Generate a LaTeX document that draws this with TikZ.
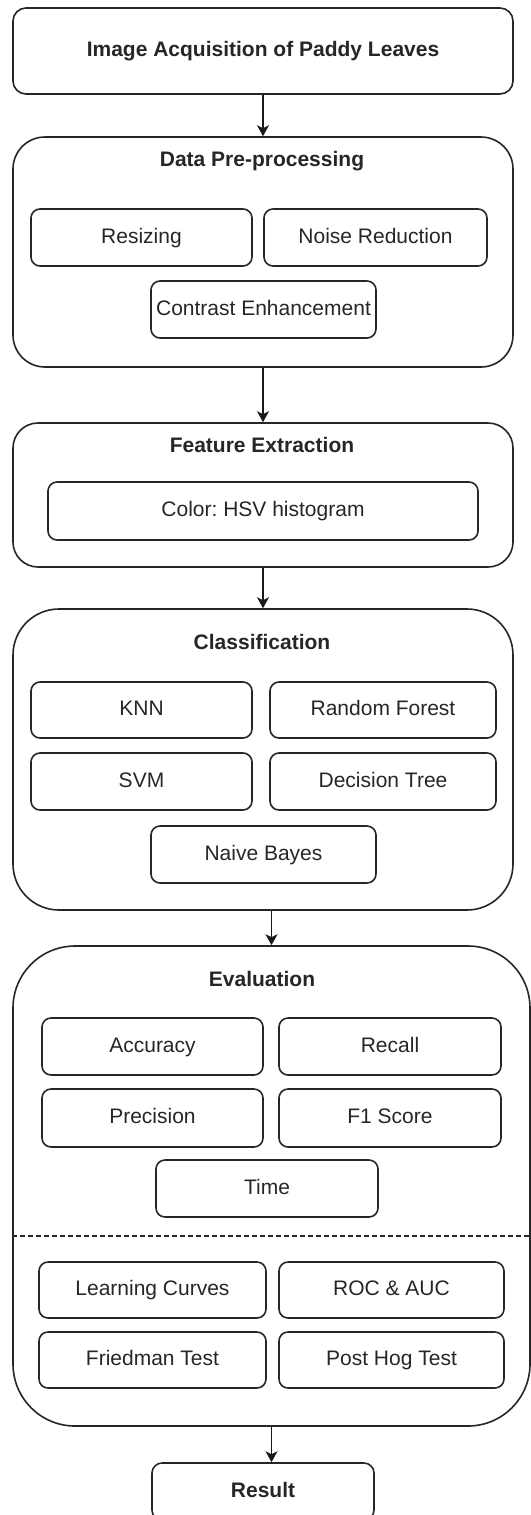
\documentclass[tikz,border=0pt]{standalone}
\usepackage{fontspec}
\setmainfont{Liberation Sans}
\usetikzlibrary{arrows.meta,calc}
\frenchspacing
\newcommand\fs{\fontsize{21}{25}\selectfont}
\tikzset{
  frame/.style={draw=black!85, line width=1.6pt, inner sep=0pt, minimum width=#1,
    text height=15pt, text depth=4pt},
  item/.style={draw=black!85, line width=1.6pt, rounded corners=9pt, inner sep=0pt,
    font=\fs, text=black!85, minimum height=57pt, text height=15pt, text depth=4pt},
  title/.style={font=\fs\bfseries, text=black!85, inner sep=0pt, text height=15pt, text depth=4pt},
  flow/.style={draw=black!90, line width=1.8pt, -{Stealth[length=11pt,width=12pt,inset=3pt]}},
  sep/.style={draw=black!85, line width=1.3pt, dash pattern=on 5pt off 3pt}
}
\begin{document}
\begin{tikzpicture}[x=1pt,y=-1pt]
\useasboundingbox (0,0) rectangle (530,1515);
% containers
\node[frame=500pt, minimum height=86pt, rounded corners=13pt, font=\fs\bfseries, text=black!85] (acq) at (263,51) {Image Acquisition of Paddy Leaves};
\node[frame=500pt, minimum height=230pt, rounded corners=32pt] (prep) at (263,252) {};
\node[frame=500pt, minimum height=144pt, rounded corners=25pt] (feat) at (263,495) {};
\node[frame=500pt, minimum height=301pt, rounded corners=46pt] (cls) at (263,759.5) {};
\node[frame=517pt, minimum height=480pt, rounded corners=62pt] (eval) at (271.5,1186) {};
\node[frame=222pt, minimum height=57pt, rounded corners=10pt, font=\fs\bfseries, text=black!85] (res) at (263,1491.5) {Result};
% titles
\node[title] (tprep) at (262,161) {Data Pre-processing};
\node[title] (tfeat) at (262,447) {Feature Extraction};
\node[title] (tcls) at (262,644) {Classification};
\node[title] (teval) at (262,981) {Evaluation};
% pre-processing
\node[item, minimum width=221pt] (resz) at (141.5,237.5) {Resizing};
\node[item, minimum width=223pt] (noise) at (375.5,237.5) {Noise Reduction};
\node[item, minimum width=225pt] (contr) at (263.5,309.5) {Contrast Enhancement};
% feature
\node[item, minimum width=430pt, minimum height=58pt] (hsv) at (263,511) {Color: HSV histogram};
% classification
\node[item, minimum width=221pt, minimum height=56pt] (knn) at (141.5,710) {KNN};
\node[item, minimum width=226pt, minimum height=56pt] (rf) at (383,710) {Random Forest};
\node[item, minimum width=221pt] (svm) at (141.5,781.5) {SVM};
\node[item, minimum width=226pt] (dt) at (383,781.5) {Decision Tree};
\node[item, minimum width=225pt] (nb) at (263.5,854.5) {Naive Bayes};
% evaluation
\node[item, minimum width=221pt] (acc) at (152.5,1046.5) {Accuracy};
\node[item, minimum width=222pt] (rec) at (390,1046.5) {Recall};
\node[item, minimum width=221pt, minimum height=58pt] (prec) at (152.5,1118) {Precision};
\node[item, minimum width=222pt, minimum height=58pt] (f1) at (390,1118) {F1 Score};
\node[item, minimum width=222pt] (time) at (267,1188.5) {Time};
\coordinate (dl) at (0,1236);
\draw[sep] (dl -| eval.west) -- (dl -| eval.east);
\node[item, minimum width=227pt, minimum height=56pt] (lc) at (152.5,1290) {Learning Curves};
\node[item, minimum width=225pt, minimum height=56pt] (roc) at (391.5,1290) {ROC \& AUC};
\node[item, minimum width=227pt, minimum height=56pt] (fried) at (152.5,1360) {Friedman Test};
\node[item, minimum width=225pt, minimum height=56pt] (post) at (391.5,1360) {Post Hog Test};
% connectors
\draw[flow] (acq.south) -- (prep.north);
\draw[flow] (prep.south) -- (feat.north);
\draw[flow] (feat.south) -- (cls.north);
\draw[flow] (cls.south -| eval.north) -- (eval.north);
\draw[flow] (eval.south) -- (eval.south |- res.north);
\end{tikzpicture}
\end{document}
